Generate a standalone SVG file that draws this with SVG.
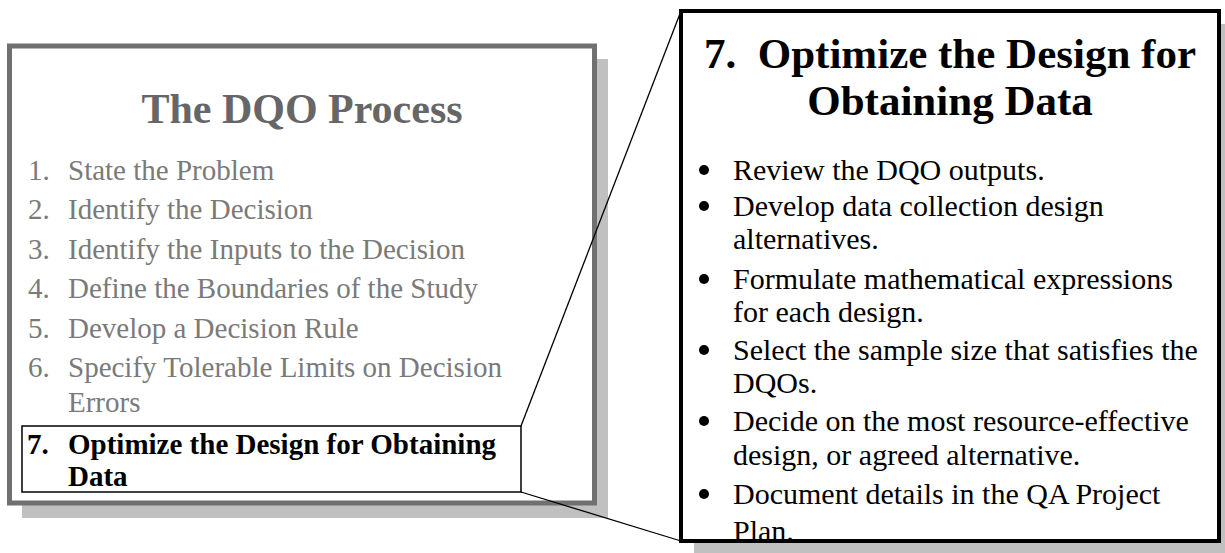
<svg xmlns="http://www.w3.org/2000/svg" width="1225" height="553" viewBox="0 0 1225 553">
  <style>
    .serif { font-family: "Liberation Serif", "Times New Roman", serif; }
    .ltitle { font-size: 42px; font-weight: bold; fill: #666666; }
    .litem { font-size: 29px; fill: #7a7a7a; }
    .bold7 { font-size: 29px; font-weight: bold; fill: #000000; }
    .rtitle { font-size: 43px; font-weight: bold; fill: #000000; }
    .ritem { font-size: 30px; fill: #000000; }
    .shadow { fill: #c0c0c0; stroke: none; }
    .conn { stroke: #000000; stroke-width: 1.3; fill: none; }
  </style>
  <defs>
    <clipPath id="rclip">
      <rect x="683" y="13" width="534" height="526"/>
    </clipPath>
  </defs>
  <rect x="0" y="0" width="1225" height="553" fill="#ffffff"/>

  <g id="left-panel">
    <rect class="shadow" x="22" y="59" width="586" height="459"/>
    <rect x="9.5" y="46" width="585" height="457" fill="#ffffff" stroke="#707070" stroke-width="5"/>
    <text class="serif ltitle" x="302" y="123" text-anchor="middle">The DQO Process</text>
    <g class="serif litem">
      <text x="28" y="180">1.</text><text x="68" y="180">State the Problem</text>
      <text x="28" y="219">2.</text><text x="68" y="219">Identify the Decision</text>
      <text x="28" y="259">3.</text><text x="68" y="259">Identify the Inputs to the Decision</text>
      <text x="28" y="298">4.</text><text x="68" y="298">Define the Boundaries of the Study</text>
      <text x="28" y="338">5.</text><text x="68" y="338">Develop a Decision Rule</text>
      <text x="28" y="377">6.</text><text x="68" y="377">Specify Tolerable Limits on Decision</text>
      <text x="68" y="412">Errors</text>
    </g>
  </g>

  <g id="step7-box">
    <rect x="22" y="426" width="499" height="66" fill="#ffffff" stroke="#000000" stroke-width="1.5"/>
    <g class="serif bold7">
      <text x="27" y="454">7.</text><text x="68" y="454">Optimize the Design for Obtaining</text>
      <text x="68" y="486">Data</text>
    </g>
  </g>

  <g id="connectors">
    <line class="conn" x1="521" y1="426" x2="681" y2="11"/>
    <line class="conn" x1="521" y1="492" x2="681" y2="541"/>
  </g>

  <g id="detail-panel">
    <rect class="shadow" x="694" y="24" width="538" height="530"/>
    <rect x="681" y="11" width="538" height="530" fill="#ffffff" stroke="#000000" stroke-width="4"/>
    <text class="serif rtitle" x="950" y="68" text-anchor="middle">7.&#160; Optimize the Design for</text>
    <text class="serif rtitle" x="950" y="115" text-anchor="middle">Obtaining Data</text>
    <g clip-path="url(#rclip)">
      <g fill="#000000">
        <circle cx="704" cy="170" r="5"/>
        <circle cx="704" cy="206" r="5"/>
        <circle cx="704" cy="279" r="5"/>
        <circle cx="704" cy="350" r="5"/>
        <circle cx="704" cy="421" r="5"/>
        <circle cx="704" cy="494" r="5"/>
      </g>
      <g class="serif ritem">
        <text x="733" y="180">Review the DQO outputs.</text>
        <text x="733" y="216">Develop data collection design</text>
        <text x="733" y="249">alternatives.</text>
        <text x="733" y="289">Formulate mathematical expressions</text>
        <text x="733" y="322">for each design.</text>
        <text x="733" y="360">Select the sample size that satisfies the</text>
        <text x="733" y="393">DQOs.</text>
        <text x="733" y="431">Decide on the most resource-effective</text>
        <text x="733" y="465">design, or agreed alternative.</text>
        <text x="733" y="504">Document details in the QA Project</text>
        <text x="733" y="541">Plan.</text>
      </g>
    </g>
    <rect x="681" y="11" width="538" height="530" fill="none" stroke="#000000" stroke-width="4"/>
  </g>
</svg>
